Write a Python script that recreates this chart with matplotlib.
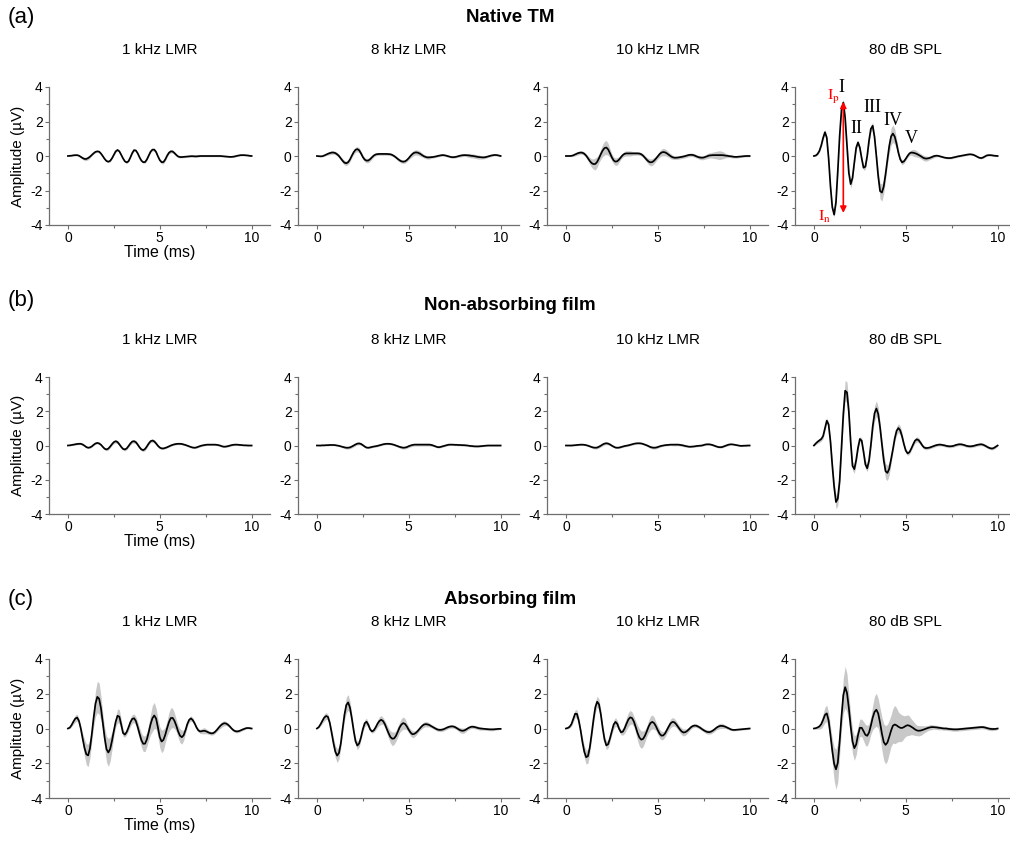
#!/usr/bin/env python3
import numpy as np
import matplotlib
matplotlib.use("Agg")
import matplotlib.pyplot as plt
from matplotlib.ticker import MultipleLocator

plt.rcParams['font.family'] = ['Liberation Sans', 'DejaVu Sans']
plt.rcParams['mathtext.fontset'] = 'stix'
plt.rcParams['axes.unicode_minus'] = False

#####################################################################
# data: mean ABR waveform (uV) and SEM band, sampled every 0.1 ms
time_ms = np.round(np.linspace(0, 10, 101), 1)

row_titles = ["Native TM", "Non-absorbing film", "Absorbing film"]
row_letters = ["(a)", "(b)", "(c)"]
col_titles = ["1 kHz LMR", "8 kHz LMR", "10 kHz LMR", "80 dB SPL"]

native_1k = [0, .01, .02, .04, .05, .05, .02, -.05, -.12, -.17,
             -.17, -.12, -.04, .06, .16, .24, .27, .25, .14, -.01,
             -.17, -.29, -.33, -.28, -.13, .07, .27, .35, .27, .07,
             -.14, -.31, -.37, -.3, -.08, .17, .34, .32, .15, -.08,
             -.27, -.36, -.35, -.2, .03, .25, .37, .37, .23, -.02,
             -.24, -.36, -.35, -.2, .02, .19, .27, .26, .17, .06,
             -.03, -.06, -.06, -.05, -.04, -.03, -.02, -.01, -.01, -.02,
             -.02, -.01, 0, 0, 0, 0, 0, 0, 0, 0,
             0, 0, 0, 0, -.01, -.02, -.03, -.04, -.05, -.05,
             -.04, -.02, .01, .03, .05, .05, .05, .04, .03, .01,
             0]
native_1k_sem = [.02, .03, .03, .04, .04, .04, .05, .06, .08, .1,
                 .1, .1, .08, .06, .05, .05, .06, .06, .05, .05,
                 .05, .06, .06, .06, .05, .05, .06, .06, .05, .05,
                 .05, .06, .06, .06, .05, .05, .06, .06, .05, .05,
                 .05, .06, .06, .06, .05, .06, .07, .08, .08, .08,
                 .09, .1, .1, .09, .08, .08, .09, .09, .08, .07,
                 .06, .06, .05, .05, .05, .05, .05, .05, .05, .06,
                 .06, .05, .04, .04, .04, .04, .04, .04, .04, .04,
                 .04, .04, .04, .04, .04, .04, .04, .04, .04, .04,
                 .04, .04, .04, .04, .04, .04, .04, .04, .04, .03,
                 .02]

native_8k = [0, -.01, -.02, -.01, .03, .08, .13, .17, .2, .2,
             .17, .1, 0, -.14, -.28, -.39, -.42, -.36, -.2, .02,
             .22, .36, .4, .33, .15, -.06, -.21, -.27, -.26, -.18,
             -.07, .03, .09, .11, .12, .12, .12, .12, .12, .11,
             .1, .06, 0, -.08, -.17, -.25, -.31, -.33, -.31, -.23,
             -.12, .01, .12, .19, .21, .19, .14, .07, 0, -.05,
             -.08, -.08, -.07, -.06, -.04, -.02, .01, .03, .05, .05,
             .03, 0, -.03, -.06, -.07, -.06, -.04, -.01, .02, .04,
             .05, .05, .04, .03, .01, 0, -.02, -.04, -.06, -.07,
             -.08, -.08, -.06, -.03, 0, .03, .05, .06, .05, .03,
             0]
native_8k_sem = [.03, .03, .03, .04, .05, .06, .08, .1, .1, .1,
                 .1, .1, .1, .1, .12, .13, .13, .12, .12, .12,
                 .13, .15, .15, .15, .13, .12, .12, .13, .13, .12,
                 .1, .08, .08, .08, .08, .08, .08, .08, .08, .08,
                 .08, .08, .08, .08, .1, .1, .1, .1, .1, .1,
                 .1, .12, .15, .15, .15, .15, .15, .12, .1, .1,
                 .1, .1, .08, .06, .06, .06, .06, .06, .06, .06,
                 .06, .06, .06, .06, .06, .06, .06, .06, .08, .08,
                 .08, .08, .1, .12, .12, .12, .12, .12, .12, .1,
                 .1, .08, .08, .06, .06, .06, .05, .05, .05, .05,
                 .04]

native_10k = [0, 0, 0, .01, .04, .09, .14, .18, .2, .19,
              .13, .02, -.13, -.29, -.41, -.47, -.46, -.34, -.13, .11,
              .32, .46, .49, .38, .16, -.08, -.26, -.33, -.3, -.2,
              -.06, .06, .13, .15, .15, .15, .15, .15, .15, .15,
              .14, .1, .02, -.1, -.22, -.32, -.37, -.35, -.27, -.15,
              -.02, .11, .2, .23, .21, .15, .07, -.01, -.07, -.1,
              -.1, -.09, -.07, -.05, -.03, 0, .03, .06, .07, .06,
              .03, -.02, -.06, -.09, -.1, -.09, -.05, -.01, .03, .04,
              .05, .05, .05, .05, .05, .05, .04, .02, .01, -.01,
              -.02, -.04, -.05, -.05, -.04, -.03, -.02, -.01, 0, 0,
              0]
native_10k_sem = [.03, .03, .03, .05, .07, .08, .1, .1, .1, .1,
                  .1, .12, .15, .2, .25, .3, .35, .3, .25, .3,
                  .35, .4, .4, .35, .25, .2, .2, .22, .22, .15,
                  .12, .12, .15, .15, .15, .15, .12, .1, .1, .1,
                  .1, .1, .1, .12, .15, .18, .2, .2, .18, .15,
                  .15, .18, .2, .22, .2, .18, .15, .15, .12, .1,
                  .1, .1, .1, .1, .1, .1, .1, .1, .1, .1,
                  .1, .1, .1, .12, .12, .12, .12, .15, .15, .15,
                  .18, .2, .22, .25, .25, .22, .18, .12, .1, .08,
                  .08, .08, .07, .07, .06, .06, .05, .05, .05, .05,
                  .04]

native_80 = [0, .03, .12, .3, .62, 1.05, 1.38, 1.06, -.14, -1.74,
             -2.97, -3.4, -2.68, -.86, 1.15, 2.65, 3.1, 2.2, .6, -.97,
             -1.63, -1.27, -.37, .48, .79, .48, -.14, -.68, -.62, 0,
             .9, 1.58, 1.75, 1.09, -.01, -1.18, -2.03, -2.12, -1.77, -1.05,
             -.22, .58, 1.13, 1.3, 1.12, .7, .18, -.2, -.37, -.31,
             -.16, .01, .15, .2, .19, .16, .12, .06, 0, -.07,
             -.13, -.15, -.14, -.11, -.07, -.02, .01, .02, 0, -.03,
             -.06, -.09, -.11, -.12, -.12, -.11, -.08, -.06, -.03, -.01,
             .01, .03, .05, .07, .09, .1, .09, .06, .01, -.05,
             -.1, -.12, -.09, -.03, .03, .05, .05, .04, .02, .01,
             0]
native_80_sem = [.03, .05, .06, .08, .1, .12, .15, .12, .1, .12,
                 .15, .15, .15, .12, .12, .15, .2, .18, .15, .2,
                 .25, .2, .15, .12, .12, .12, .12, .15, .15, .15,
                 .15, .2, .2, .2, .2, .3, .45, .5, .4, .3,
                 .3, .4, .5, .5, .45, .3, .2, .15, .15, .12,
                 .1, .1, .12, .15, .2, .2, .18, .15, .15, .15,
                 .15, .15, .12, .1, .1, .1, .08, .06, .05, .05,
                 .05, .05, .05, .05, .05, .05, .05, .05, .05, .05,
                 .05, .05, .05, .05, .05, .05, .05, .05, .05, .05,
                 .05, .05, .05, .05, .05, .05, .05, .05, .05, .05,
                 .03]

nonabs_1k = [0, .01, .03, .05, .07, .09, .1, .1, .06, -.01,
             -.09, -.13, -.11, -.05, .04, .12, .15, .12, .04, -.08,
             -.19, -.23, -.18, -.06, .08, .2, .25, .2, .07, -.08,
             -.2, -.23, -.17, -.03, .12, .23, .25, .19, .05, -.11,
             -.23, -.27, -.2, -.05, .12, .25, .29, .24, .12, -.02,
             -.12, -.17, -.17, -.14, -.1, -.05, 0, .04, .07, .09,
             .1, .1, .09, .06, .03, -.01, -.05, -.09, -.12, -.13,
             -.11, -.07, -.03, 0, .02, .04, .05, .05, .05, .05,
             .05, .04, .02, -.01, -.05, -.07, -.06, -.04, -.01, .02,
             .04, .05, .05, .04, .03, .02, .01, .01, 0, 0,
             0]
nonabs_1k_sem = [.02, .03, .04, .04, .05, .05, .05, .05, .05, .05,
                 .05, .05, .05, .05, .05, .05, .06, .06, .06, .06,
                 .07, .08, .08, .08, .08, .09, .1, .1, .09, .08,
                 .08, .08, .08, .08, .09, .1, .1, .1, .09, .08,
                 .08, .09, .09, .08, .08, .09, .1, .1, .09, .08,
                 .07, .06, .06, .05, .05, .05, .05, .05, .05, .05,
                 .05, .05, .05, .05, .05, .05, .05, .05, .05, .05,
                 .05, .05, .05, .05, .05, .05, .05, .05, .05, .05,
                 .05, .05, .05, .05, .05, .05, .05, .05, .05, .05,
                 .05, .05, .05, .05, .04, .04, .04, .04, .04, .04,
                 .03]

nonabs_8k = [0, 0, 0, .01, .01, .02, .02, .03, .03, .03,
             .02, 0, -.02, -.05, -.08, -.11, -.13, -.13, -.11, -.06,
             0, .06, .11, .12, .09, .02, -.06, -.12, -.13, -.11,
             -.08, -.06, -.04, -.02, .01, .04, .07, .09, .1, .1,
             .09, .07, .04, 0, -.04, -.08, -.11, -.13, -.12, -.09,
             -.04, 0, .03, .05, .05, .05, .05, .05, .05, .05,
             .05, .05, .04, .01, -.03, -.07, -.1, -.09, -.06, -.03,
             0, .03, .05, .05, .05, .04, .04, .03, .03, .02,
             .02, .01, 0, -.02, -.03, -.04, -.05, -.05, -.05, -.04,
             -.03, -.02, -.01, 0, 0, 0, 0, 0, 0, 0,
             0]
nonabs_8k_sem = [.02, .03, .03, .04, .04, .04, .04, .04, .04, .04,
                 .04, .04, .04, .05, .06, .07, .08, .08, .08, .08,
                 .08, .08, .08, .08, .08, .07, .06, .05, .05, .05,
                 .05, .05, .05, .05, .05, .05, .05, .05, .05, .05,
                 .05, .05, .05, .05, .06, .07, .08, .08, .08, .08,
                 .08, .08, .08, .08, .08, .08, .08, .08, .08, .08,
                 .08, .08, .08, .06, .05, .05, .05, .05, .05, .05,
                 .05, .05, .05, .05, .05, .05, .05, .05, .05, .05,
                 .05, .05, .05, .05, .05, .05, .05, .05, .05, .05,
                 .04, .04, .04, .04, .04, .04, .04, .04, .04, .04,
                 .03]

nonabs_10k = [0, 0, 0, 0, .01, .02, .03, .04, .05, .05,
              .04, .02, -.01, -.05, -.09, -.12, -.13, -.12, -.07, -.01,
              .06, .11, .13, .11, .06, -.01, -.07, -.12, -.13, -.12,
              -.09, -.06, -.03, -.01, .01, .04, .07, .1, .12, .13,
              .13, .12, .09, .05, .01, -.04, -.09, -.12, -.13, -.12,
              -.09, -.05, -.02, 0, .02, .03, .04, .05, .05, .05,
              .05, .05, .04, .02, 0, -.03, -.05, -.07, -.07, -.06,
              -.05, -.03, -.02, -.01, 0, .03, .06, .07, .07, .05,
              .02, -.02, -.06, -.09, -.1, -.09, -.05, -.01, .03, .06,
              .07, .06, .04, .02, 0, -.02, -.02, -.01, -.01, 0,
              0]
nonabs_10k_sem = [.02, .03, .03, .04, .04, .04, .04, .04, .04, .04,
                  .04, .04, .04, .05, .06, .07, .08, .08, .08, .08,
                  .08, .08, .08, .08, .07, .06, .05, .05, .05, .05,
                  .05, .05, .05, .05, .05, .05, .05, .05, .05, .05,
                  .05, .05, .05, .05, .06, .07, .08, .08, .08, .08,
                  .07, .06, .05, .05, .05, .05, .05, .05, .07, .07,
                  .07, .07, .07, .07, .07, .06, .05, .05, .05, .05,
                  .05, .05, .05, .05, .05, .05, .05, .05, .05, .05,
                  .05, .05, .05, .05, .05, .05, .05, .05, .05, .05,
                  .04, .04, .04, .04, .04, .04, .04, .04, .04, .04,
                  .03]

nonabs_80 = [0, .12, .22, .3, .38, .55, 1.0, 1.45, 1.22, .23,
             -1.16, -2.41, -3.3, -3.1, -2.07, -.15, 1.83, 3.2, 3.1, 1.97,
             .2, -1.19, -1.38, -.85, -.13, .38, .28, -.37, -1.1, -1.33,
             -.88, .03, 1.11, 1.88, 2.16, 1.84, 1.06, .08, -.86, -1.5,
             -1.6, -1.36, -.8, -.22, .41, .86, 1.02, .88, .52, .07,
             -.3, -.46, -.39, -.18, .06, .28, .36, .31, .17, 0,
             -.12, -.15, -.14, -.12, -.08, -.04, 0, .03, .05, .05,
             .03, .01, -.02, -.04, -.05, -.04, -.02, .02, .05, .07,
             .07, .05, .02, -.02, -.04, -.05, -.04, -.02, .01, .04,
             .06, .07, .05, 0, -.06, -.12, -.16, -.18, -.14, -.07,
             0]
nonabs_80_sem = [.03, .08, .1, .12, .12, .15, .15, .15, .15, .2,
                 .25, .3, .4, .4, .3, .3, .45, .6, .6, .45,
                 .3, .25, .25, .2, .15, .15, .15, .2, .25, .2,
                 .2, .25, .35, .45, .45, .4, .3, .3, .4, .45,
                 .45, .35, .25, .2, .2, .25, .25, .25, .2, .15,
                 .12, .12, .12, .12, .12, .15, .15, .15, .12, .1,
                 .1, .1, .08, .08, .08, .08, .08, .08, .08, .08,
                 .08, .08, .08, .08, .08, .08, .08, .08, .08, .08,
                 .08, .08, .08, .08, .08, .08, .08, .08, .08, .08,
                 .08, .08, .08, .08, .08, .08, .08, .08, .08, .08,
                 .05]

abs_1k = [0, .05, .2, .4, .57, .63, .44, 0, -.57, -1.11,
          -1.48, -1.55, -1.14, -.33, .62, 1.43, 1.82, 1.71, 1.16, .33,
          -.54, -1.19, -1.38, -1.18, -.7, -.14, .39, .73, .68, .23,
          -.26, -.35, -.2, .07, .36, .55, .59, .43, .08, -.31,
          -.67, -.88, -.87, -.62, -.2, .25, .59, .75, .57, .05,
          -.5, -.75, -.65, -.36, .02, .37, .6, .61, .44, .16,
          -.17, -.41, -.5, -.39, -.1, .26, .5, .58, .48, .29,
          .06, -.11, -.17, -.15, -.13, -.15, -.2, -.25, -.28, -.27,
          -.2, -.09, .04, .16, .25, .3, .29, .23, .13, .01,
          -.09, -.15, -.17, -.15, -.11, -.06, -.02, .02, .03, .02,
          0]
abs_1k_sem = [.03, .05, .1, .15, .2, .2, .15, .15, .3, .5,
              .6, .65, .55, .4, .5, .75, .9, .9, .7, .5,
              .6, .75, .8, .7, .5, .3, .3, .4, .4, .3,
              .2, .15, .15, .2, .25, .25, .25, .25, .3, .35,
              .4, .45, .45, .4, .45, .6, .75, .75, .6, .5,
              .6, .65, .6, .45, .45, .55, .6, .55, .45, .35,
              .35, .4, .4, .3, .2, .15, .15, .15, .12, .1,
              .1, .1, .12, .15, .18, .15, .12, .1, .1, .1,
              .1, .1, .12, .15, .15, .15, .12, .1, .08, .08,
              .08, .08, .08, .08, .06, .06, .06, .05, .05, .05,
              .03]

abs_8k = [0, .08, .25, .45, .63, .72, .67, .32, -.24, -.83,
          -1.33, -1.56, -1.41, -.86, -.01, .8, 1.35, 1.5, 1.2, .58,
          -.12, -.73, -.98, -.86, -.5, -.04, .3, .39, .21, -.06,
          -.17, -.1, .07, .28, .43, .5, .43, .25, -.02, -.27,
          -.49, -.59, -.57, -.43, -.19, .06, .23, .31, .26, .11,
          -.08, -.24, -.33, -.31, -.24, -.13, 0, .12, .21, .25,
          .24, .21, .15, .09, .03, -.03, -.07, -.08, -.07, -.04,
          .01, .06, .1, .12, .12, .09, .03, -.04, -.1, -.13,
          -.12, -.07, 0, .06, .1, .1, .08, .05, .02, 0,
          -.01, -.02, -.03, -.04, -.05, -.05, -.05, -.04, -.03, -.02,
          -.02]
abs_8k_sem = [.03, .05, .1, .15, .2, .2, .15, .15, .2, .3,
              .35, .4, .35, .25, .25, .35, .45, .45, .35, .25,
              .2, .2, .25, .2, .15, .15, .2, .2, .15, .1,
              .1, .12, .15, .2, .25, .25, .2, .2, .25, .3,
              .35, .4, .35, .3, .3, .3, .35, .35, .3, .2,
              .18, .2, .2, .18, .15, .12, .12, .15, .15, .15,
              .15, .12, .1, .1, .1, .1, .1, .1, .1, .1,
              .1, .1, .1, .1, .1, .1, .1, .12, .15, .15,
              .15, .12, .1, .1, .1, .1, .1, .1, .1, .1,
              .08, .08, .08, .08, .08, .08, .08, .06, .06, .05,
              .03]

abs_10k = [0, .03, .1, .25, .55, .85, .84, .45, -.11, -.79,
           -1.34, -1.65, -1.59, -1.09, -.32, .51, 1.22, 1.54, 1.39, .81,
           .03, -.63, -.97, -.9, -.56, -.15, .23, .38, .26, -.03,
           -.22, -.18, .02, .28, .52, .64, .6, .4, .08, -.26,
           -.52, -.64, -.6, -.42, -.17, .11, .31, .38, .31, .13,
           -.1, -.3, -.41, -.4, -.28, -.08, .12, .3, .38, .36,
           .25, .1, -.05, -.17, -.23, -.21, -.14, -.04, .07, .14,
           .17, .16, .11, .05, -.03, -.1, -.16, -.2, -.21, -.18,
           -.12, -.04, .05, .11, .15, .15, .13, .09, .04, -.01,
           -.06, -.08, -.08, -.07, -.06, -.05, -.04, -.03, -.02, -.01,
           0]
abs_10k_sem = [.03, .05, .08, .12, .18, .22, .25, .2, .15, .25,
               .35, .4, .4, .3, .25, .25, .3, .32, .3, .25,
               .2, .22, .25, .22, .18, .2, .25, .25, .2, .15,
               .15, .2, .3, .35, .4, .4, .35, .3, .35, .45,
               .5, .5, .45, .35, .3, .35, .4, .4, .35, .25,
               .25, .25, .25, .22, .2, .2, .22, .25, .25, .22,
               .2, .18, .18, .2, .2, .18, .15, .12, .1, .1,
               .1, .1, .1, .1, .1, .1, .12, .12, .12, .12,
               .12, .12, .12, .15, .15, .15, .12, .1, .08, .08,
               .06, .06, .05, .05, .05, .05, .05, .05, .05, .05,
               .03]

abs_80 = [0, .02, .06, .12, .25, .5, .78, .87, .46, -.38,
          -1.28, -2.03, -2.35, -1.97, -.74, .68, 1.91, 2.38, 2.05, 1.19,
          .13, -.74, -1.13, -.92, -.38, .04, .04, -.15, -.36, -.42,
          -.23, .17, .63, .96, 1.08, .86, .33, -.29, -.78, -.94,
          -.81, -.48, -.12, .16, .23, .18, .1, .04, .03, .08,
          .15, .19, .16, .1, .03, -.05, -.11, -.13, -.12, -.09,
          -.05, -.01, .03, .06, .08, .08, .07, .06, .04, .03,
          .01, 0, 0, -.02, -.03, -.04, -.05, -.05, -.05, -.04,
          -.03, -.02, -.01, 0, .01, .02, .03, .04, .05, .06,
          .07, .08, .08, .06, .03, 0, -.02, -.03, -.03, -.02,
          0]
abs_80_sem = [.03, .05, .1, .15, .25, .35, .45, .47, .45, .5,
              .7, .95, 1.15, 1.1, .8, .7, 1.0, 1.2, 1.1, .8,
              .7, .7, .7, .6, .5, .5, .5, .55, .6, .6,
              .5, .5, .7, .9, .95, .85, .85, .95, 1.05, 1.1,
              1.05, .95, .9, 1.0, 1.1, 1.0, .85, .8, .75, .65,
              .6, .6, .55, .45, .4, .35, .3, .3, .28, .25,
              .2, .18, .15, .15, .15, .12, .12, .12, .12, .1,
              .1, .1, .1, .1, .1, .1, .1, .1, .1, .1,
              .1, .1, .1, .1, .1, .1, .1, .1, .1, .1,
              .1, .1, .1, .1, .1, .1, .1, .1, .08, .08,
              .05]

# wave labels on the native 80 dB panel: (text, time, amplitude)
wave_labels = [("I", 1.5, 3.5), ("II", 2.3, 1.1), ("III", 3.2, 2.3),
               ("IV", 4.3, 1.55), ("V", 5.3, 0.55)]

#####################################################################
panels = [
    [(native_1k, native_1k_sem), (native_8k, native_8k_sem),
     (native_10k, native_10k_sem), (native_80, native_80_sem)],
    [(nonabs_1k, nonabs_1k_sem), (nonabs_8k, nonabs_8k_sem),
     (nonabs_10k, nonabs_10k_sem), (nonabs_80, nonabs_80_sem)],
    [(abs_1k, abs_1k_sem), (abs_8k, abs_8k_sem),
     (abs_10k, abs_10k_sem), (abs_80, abs_80_sem)],
]

W, H = 1010, 842
fig = plt.figure(figsize=(W / 100, H / 100), dpi=100)

col_left = [49, 298, 547, 795]
row_top = [87, 377, 659]
row_bottom = [225, 514, 798]
ax_w = 221
row_title_y = [17, 306, 600]
letter_y = [17, 300, 600]

spine_col = "#6e6e6e"

for r in range(3):
    fig.text(0.505, 1 - row_title_y[r] / H, row_titles[r], ha="center",
             va="center", fontsize=13.5, fontweight="bold")
    fig.text(8 / W, 1 - letter_y[r] / H, row_letters[r], ha="left",
             va="center", fontsize=16)
    for c in range(4):
        mean = np.array(panels[r][c][0])
        sem = np.array(panels[r][c][1])
        ax_h = row_bottom[r] - row_top[r]
        ax = fig.add_axes([col_left[c] / W, 1 - row_bottom[r] / H,
                           ax_w / W, ax_h / H])
        ax.fill_between(time_ms, mean - sem, mean + sem, color="#c8c8c8",
                        lw=0, zorder=1)
        ax.plot(time_ms, mean, color="black", lw=1.25, zorder=2)

        ax.set_xlim(-1.03, 11)
        ax.set_ylim(-4, 4)
        ax.xaxis.set_major_locator(MultipleLocator(5))
        ax.xaxis.set_minor_locator(MultipleLocator(2.5))
        ax.yaxis.set_major_locator(MultipleLocator(2))
        ax.yaxis.set_minor_locator(MultipleLocator(1))
        for s in ["top", "right"]:
            ax.spines[s].set_visible(False)
        for s in ["left", "bottom"]:
            ax.spines[s].set_color(spine_col)
            ax.spines[s].set_linewidth(0.9)
        ax.tick_params(which="major", direction="out", length=3,
                       width=0.8, color=spine_col, labelsize=10, pad=1.5)
        ax.tick_params(which="minor", direction="out", length=2,
                       width=0.8, color=spine_col)
        ax.set_title(col_titles[c], fontsize=11, pad=24)

        if c == 0:
            ax.set_ylabel("Amplitude (\u00b5V)", fontsize=11)
            ax.yaxis.set_label_coords(-24 / ax_w, 0.5)
            ax.set_xlabel("Time (ms)", fontsize=11.5)
            ax.xaxis.set_label_coords(0.5, -20 / ax_h)

        if r == 0 and c == 3:
            # Ip-In arrow from peak I to the preceding trough
            ip = int(np.argmax(mean))
            i_n = int(np.argmin(mean))
            ax.annotate("", xy=(time_ms[ip], mean[i_n] + 0.1),
                        xytext=(time_ms[ip], mean[ip] + 0.05),
                        arrowprops=dict(arrowstyle="<|-|>", color="red",
                                        lw=1.2, mutation_scale=9,
                                        shrinkA=0, shrinkB=0), zorder=4)
            ax.text(time_ms[ip] - 0.2, mean[ip] + 0.3, r"$\mathrm{I_p}$",
                    color="red", fontsize=11.5, ha="right", va="center")
            ax.text(time_ms[i_n] - 0.15, mean[i_n] - 0.15, r"$\mathrm{I_n}$",
                    color="red", fontsize=11.5, ha="right", va="center")
            for lab, tx, ty in wave_labels:
                ax.text(tx, ty, lab, fontsize=13, ha="center", va="bottom",
                        family=["Liberation Serif", "DejaVu Serif"])

fig.savefig("out.png", dpi=100)
print("All done!")
